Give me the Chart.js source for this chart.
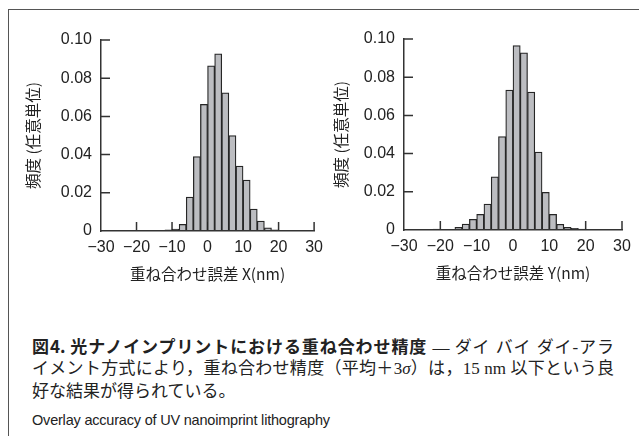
<!DOCTYPE html>
<html>
<head>
<meta charset="utf-8">
<script src="https://cdn.jsdelivr.net/npm/chart.js@4.4.1/dist/chart.umd.min.js"></script>
<style>
  html, body { margin: 0; padding: 0; background: #fff; }
  body { width: 639px; height: 436px; position: relative; overflow: hidden; }
  .frame { position: absolute; left: 8px; top: 9px; width: 700px; height: 500px;
           border-left: 1.5px solid #555; border-top: 1.5px solid #555; }
  .box { position: absolute; top: 0; height: 290px; }
  #boxX { left: 0; width: 330px; }
  #boxY { left: 310px; width: 329px; }
  .cap { position: absolute; left: 32px; width: 582px; color: #222;
         font-family: "Liberation Serif", "Noto Sans CJK JP", serif;
         font-size: 17px; line-height: 23px; }
  .just { text-align: justify; text-align-last: justify; }
  .b { font-family: "Noto Sans CJK JP", sans-serif; font-weight: bold; }
  .en { font-family: "Liberation Sans", Arial, sans-serif; font-size: 14.5px; color: #222; letter-spacing: -0.2px; }
</style>
</head>
<body>
<div class="frame"></div>
<div class="box" id="boxX"><canvas id="chartX"></canvas></div>
<div class="box" id="boxY"><canvas id="chartY"></canvas></div>

<div class="cap just" style="top:334px"><span class="b">図4. 光ナノインプリントにおける重ね合わせ精度</span> — ダイ バイ ダイ-アラ</div>
<div class="cap just" style="top:357px">イメント方式により，重ね合わせ精度（平均＋3<i>σ</i>）は，15 nm 以下という良</div>
<div class="cap" style="top:380px">好な結果が得られている。</div>
<div class="cap en" style="top:409px">Overlay accuracy of UV nanoimprint lithography</div>

<script>
// bin centres (2 nm bins) and relative frequency
const binsX = [-15, -13, -11, -9, -7, -5, -3, -1, 1, 3, 5, 7, 9, 11, 13, 15, 17, 19, 21, 23, 25, 27];
const freqX = [0.0003, 0.0004, 0.0006, 0.001, 0.0035, 0.0178, 0.039, 0.0663, 0.0865, 0.0928, 0.0724,
               0.050, 0.034, 0.0267, 0.0115, 0.0052, 0.0016, 0.0006, 0.0003, 0.0002, 0.0003, 0.0003];

const binsY = [-21, -19, -17, -15, -13, -11, -9, -7, -5, -3, -1, 1, 3, 5, 7, 9, 11, 13, 15, 17, 19];
const freqY = [0.0005, 0, 0, 0.0014, 0.0031, 0.0056, 0.0082, 0.0136, 0.0279, 0.0489, 0.0733, 0.0965,
               0.0928, 0.0722, 0.0408, 0.0197, 0.0082, 0.003, 0.0014, 0.0009, 0.0005];

const xTicks = [-30, -20, -10, 0, 10, 20, 30];
const yTicks = [0, 0.02, 0.04, 0.06, 0.08, 0.10];

const axisColor = '#333';
const textColor = '#222';

// short tick marks pointing into the plot
const innerTicks = {
  id: 'innerTicks',
  beforeDatasetsDraw(chart) {
    const { ctx, scales: { x, y } } = chart;
    ctx.save();
    ctx.strokeStyle = axisColor;
    ctx.lineWidth = 1.5;
    ctx.beginPath();
    xTicks.forEach(v => {
      if (v === xTicks[0]) return;
      const px = x.getPixelForValue(v);
      ctx.moveTo(px, y.bottom);
      ctx.lineTo(px, y.bottom - 9);
    });
    yTicks.forEach(v => {
      if (v === 0) return;
      const py = y.getPixelForValue(v);
      ctx.moveTo(x.left, py);
      ctx.lineTo(x.left + 9, py);
    });
    ctx.stroke();
    ctx.restore();
  }
};

function makeChart(id, bins, freq, xTitle, yTitlePad, yWidth, pad) {
  return new Chart(document.getElementById(id), {
    type: 'bar',
    data: {
      datasets: [{
        data: bins.map((b, i) => ({ x: b, y: freq[i] })),
        backgroundColor: '#bcbdc1',
        borderColor: '#262626',
        borderWidth: 1.25,
        barPercentage: 1,
        categoryPercentage: 1
      }]
    },
    options: {
      responsive: true,
      maintainAspectRatio: false,
      animation: false,
      devicePixelRatio: 1,
      layout: { padding: pad },
      plugins: { legend: { display: false }, tooltip: { enabled: false } },
      scales: {
        x: {
          type: 'linear',
          offset: false,
          min: -30,
          max: 30,
          afterBuildTicks: s => { s.ticks = xTicks.map(v => ({ value: v })); },
          afterFit: s => { s.height = 55; },
          grid: { display: false, drawTicks: false },
          border: { display: true, color: axisColor, width: 1.5, z: 1 },
          ticks: {
            padding: 7,
            maxRotation: 0,
            autoSkip: false,
            color: textColor,
            font: { family: 'Liberation Sans', size: 16 },
            callback: v => v < 0 ? '\u2212' + Math.abs(v) : String(v)
          },
          title: {
            display: true,
            text: xTitle,
            color: textColor,
            font: { family: 'Noto Sans CJK JP', size: 15.5 },
            padding: { top: 0, bottom: 3 }
          }
        },
        y: {
          min: 0,
          max: 0.1,
          afterBuildTicks: s => { s.ticks = yTicks.map(v => ({ value: v })); },
          afterFit: s => { s.width = yWidth; },
          grid: { display: false, drawTicks: false },
          border: { display: true, color: axisColor, width: 1.5, z: 1 },
          ticks: {
            padding: 9,
            color: textColor,
            font: { family: 'Liberation Sans', size: 16 },
            callback: v => v === 0 ? '0' : v.toFixed(2)
          },
          title: {
            display: true,
            text: '頻度 (任意単位)',
            color: textColor,
            font: { family: 'Noto Sans CJK JP', size: 15.5 },
            padding: { top: yTitlePad, bottom: 0 }
          }
        }
      }
    },
    plugins: [innerTicks]
  });
}

makeChart('chartX', binsX, freqX, '重ね合わせ誤差 X(nm)', 24, 101, { left: 0, top: 40, right: 12, bottom: 4 });
makeChart('chartY', binsY, freqY, '重ね合わせ誤差 Y(nm)', 22, 94, { left: 0, top: 39, right: 17, bottom: 5 });
</script>
</body>
</html>
